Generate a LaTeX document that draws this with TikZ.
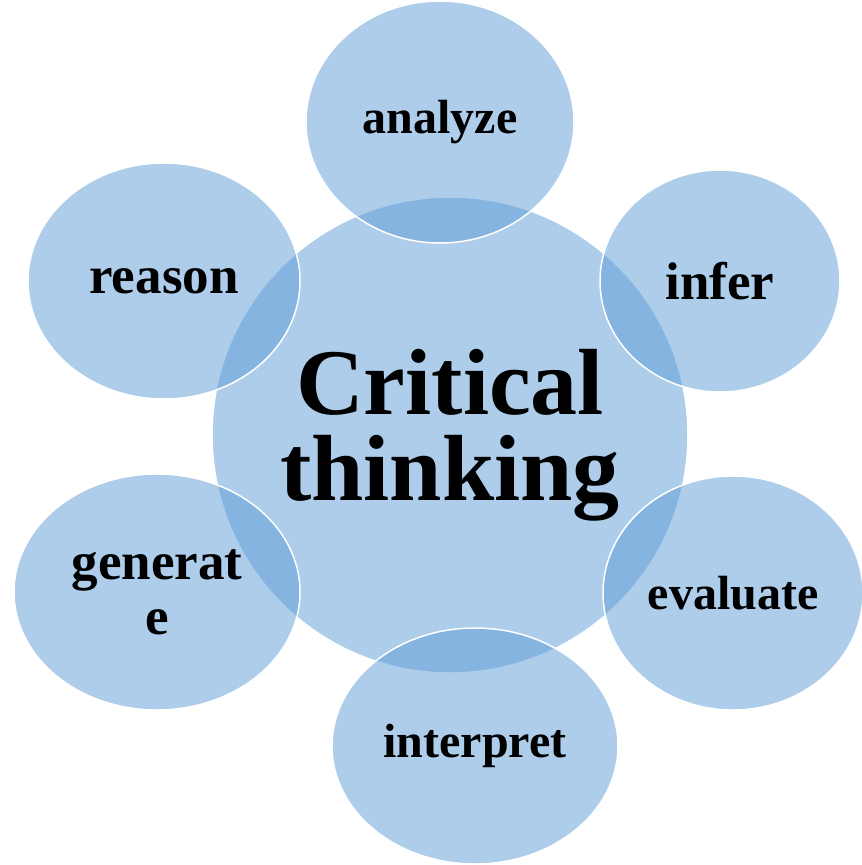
\documentclass[tikz,border=0pt]{standalone}
\usepackage{fontspec}
\setmainfont{Liberation Serif}
\usetikzlibrary{shapes.geometric}
\definecolor{skill}{RGB}{91,155,213}
\begin{document}
\begin{tikzpicture}[x=1pt,y=-1pt]
            \tikzset{
                core/.style={circle, fill=skill, fill opacity=0.5, text opacity=1,
                    draw=white, line width=1.5pt, minimum size=476pt, inner sep=0pt,
                    align=center, font=\bfseries\fontsize{94}{86}\selectfont},
                skillbox/.style={ellipse, fill=skill, fill opacity=0.5, text opacity=1,
                    draw=white, line width=1.5pt, inner sep=0pt,
                    align=center, font=\bfseries\fontsize{48}{55}\selectfont},
                bigskill/.style={skillbox, font=\bfseries\fontsize{53}{55}\selectfont}
            }
            \useasboundingbox (0,0) rectangle (862,865);

            \draw node[core] (ct) at (450,435) {Critical\\thinking};

            \draw node[skillbox, minimum width=268pt, minimum height=242pt] (an) at (440,122) {analyze};
            \draw node[bigskill, minimum width=240pt, minimum height=222pt] (in) at (720,281) {infer};
            \draw node[skillbox, minimum width=260pt, minimum height=234pt] (ev) at (733,593) {evaluate};
            \draw node[skillbox, minimum width=286pt, minimum height=236pt] (ip) at (475,746) {interpret};
            \draw node[bigskill, minimum width=286pt, minimum height=236pt] (ge) at (157,592) {generat\\e};
            \draw node[bigskill, minimum width=272pt, minimum height=236pt] (re) at (164,281) {reason};
        \end{tikzpicture}
\end{document}
